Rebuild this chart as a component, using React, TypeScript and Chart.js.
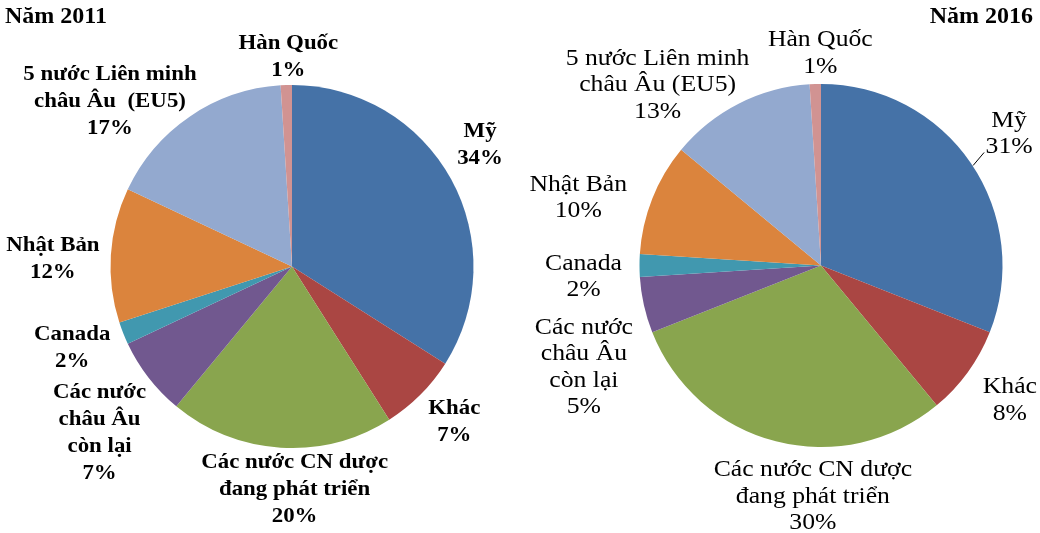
import React, { useEffect, useRef } from "react";
import { Chart, registerables } from "chart.js";

Chart.register(...registerables);

const labels2011 = [
  "Mỹ",
  "Khác",
  "Các nước CN dược\nđang phát triển",
  "Các nước\nchâu Âu\ncòn lại",
  "Canada",
  "Nhật Bản",
  "5 nước Liên minh\nchâu Âu  (EU5)",
  "Hàn Quốc",
];
const labels2016 = [
  "Mỹ",
  "Khác",
  "Các nước CN dược\nđang phát triển",
  "Các nước\nchâu Âu\ncòn lại",
  "Canada",
  "Nhật Bản",
  "5 nước Liên minh\nchâu Âu (EU5)",
  "Hàn Quốc",
];
const values2011 = [34, 7, 20, 7, 2, 12, 17, 1];
const values2016 = [31, 8, 30, 5, 2, 10, 13, 1];
const sliceColors = [
  "#4572A7",
  "#AA4643",
  "#89A54E",
  "#71588F",
  "#4198AF",
  "#DB843D",
  "#93A9CF",
  "#D19392",
];

type Cfg = {
  title: string;
  titleAlign: "left" | "right";
  labels: string[];
  values: number[];
  bold: boolean;
  fontSize: number;
  scaleX: number;
  lineHeight: number;
  nudges: number[][];
  leader?: { index: number; dx: number; dy: number };
  padding: { left: number; right: number; top: number; bottom: number };
};

const cfg2011: Cfg = {
  title: "Năm 2011",
  titleAlign: "left",
  labels: labels2011,
  values: values2011,
  bold: true,
  fontSize: 22,
  scaleX: 1.04,
  lineHeight: 27,
  nudges: [
    [29, -34],
    [34, 27],
    [14, 42],
    [-49, 55],
    [-51, 14],
    [-58, 4],
    [-80, -15],
    [2, -28],
  ],
  padding: { left: 110, right: 46, top: 85, bottom: 85 },
};

const cfg2016: Cfg = {
  title: "Năm 2016",
  titleAlign: "right",
  labels: labels2016,
  values: values2016,
  bold: false,
  fontSize: 24,
  scaleX: 1.07,
  lineHeight: 26.5,
  nudges: [
    [38, -30],
    [42, 28],
    [37, 55],
    [-60, 62],
    [-56, 11],
    [-74, -1],
    [-81, -19],
    [5, -31],
  ],
  leader: { index: 0, dx: 13, dy: -11 },
  padding: { left: 119, right: 37, top: 84, bottom: 86 },
};

const FONT = '"Liberation Serif", "Times New Roman", serif';

function makeLabelPlugin(c: Cfg) {
  return {
    id: "sliceLabels",
    afterDatasetsDraw(chart: any) {
      const ctx = chart.ctx as CanvasRenderingContext2D;
      const meta = chart.getDatasetMeta(0);
      ctx.save();
      ctx.fillStyle = "#000";
      ctx.strokeStyle = "#000";
      // title
      ctx.font = `bold 24px ${FONT}`;
      ctx.textBaseline = "alphabetic";
      if (c.titleAlign === "left") {
        ctx.textAlign = "left";
        ctx.fillText(c.title, 5, 23);
      } else {
        ctx.textAlign = "right";
        ctx.fillText(c.title, chart.width - 7, 23);
      }
      ctx.font = `${c.bold ? "bold " : ""}${c.fontSize}px ${FONT}`;
      ctx.textAlign = "center";
      ctx.textBaseline = "middle";
      meta.data.forEach((arc: any, i: number) => {
        const mid = (arc.startAngle + arc.endAngle) / 2;
        const ex = arc.x + Math.cos(mid) * arc.outerRadius;
        const ey = arc.y + Math.sin(mid) * arc.outerRadius;
        const [dx, dy] = c.nudges[i];
        const lines = (c.labels[i] + "\n" + c.values[i] + "%").split("\n");
        const cx = ex + dx;
        const cy = ey + dy;
        const top = cy - ((lines.length - 1) * c.lineHeight) / 2;
        lines.forEach((ln, j) => {
          ctx.save();
          ctx.translate(cx, top + j * c.lineHeight);
          ctx.scale(c.scaleX, 1);
          ctx.fillText(ln, 0, 0);
          ctx.restore();
        });
        if (c.leader && c.leader.index === i) {
          ctx.lineWidth = 1;
          ctx.beginPath();
          ctx.moveTo(ex + 2, ey + 2);
          ctx.lineTo(ex + c.leader.dx, ey + c.leader.dy);
          ctx.stroke();
        }
      });
      ctx.restore();
    },
  };
}

function PieChart({ c }: { c: Cfg }) {
  const ref = useRef<HTMLCanvasElement | null>(null);
  useEffect(() => {
    if (!ref.current) return;
    const chart = new Chart(ref.current, {
      type: "pie",
      data: {
        labels: c.labels,
        datasets: [
          {
            data: c.values,
            backgroundColor: sliceColors,
            borderWidth: 0,
          },
        ],
      },
      options: {
        responsive: false,
        animation: false,
        devicePixelRatio: 1,
        layout: { padding: c.padding },
        plugins: {
          legend: { display: false },
          tooltip: { enabled: false },
          title: { display: false },
        },
      },
      plugins: [makeLabelPlugin(c)],
    });
    return () => chart.destroy();
  }, [c]);
  return <canvas ref={ref} width={520} height={533} style={{ display: "block" }} />;
}

export default function App() {
  useEffect(() => {
    document.body.style.margin = "0";
  }, []);
  return (
    <div
      style={{
        position: "fixed",
        left: 0,
        top: 0,
        width: 1040,
        height: 533,
        background: "#fff",
        display: "flex",
      }}
    >
      <PieChart c={cfg2011} />
      <PieChart c={cfg2016} />
    </div>
  );
}
